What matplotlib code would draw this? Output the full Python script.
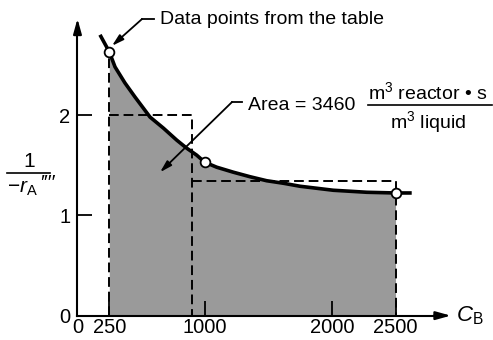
import matplotlib
matplotlib.use('Agg')
import matplotlib.pyplot as plt

plt.rcParams['font.family'] = ['Liberation Sans', 'DejaVu Sans']
plt.rcParams['mathtext.fontset'] = 'custom'
plt.rcParams['mathtext.rm'] = 'Liberation Sans'
plt.rcParams['mathtext.it'] = 'Liberation Sans:italic'
plt.rcParams['mathtext.bf'] = 'Liberation Sans:bold'

# curve (C_B, 1/-rA'''')
curve_x = [177, 250, 295, 373, 452, 517, 570, 675, 780, 858, 937, 1000,
           1094, 1225, 1356, 1487, 1618, 1749, 2011, 2274, 2500, 2627]
curve_y = [2.80, 2.63, 2.48, 2.32, 2.18, 2.07, 1.98, 1.87, 1.75, 1.67, 1.60, 1.53,
           1.48, 1.43, 1.385, 1.345, 1.32, 1.29, 1.25, 1.23, 1.223, 1.223]

# data points from the table
pts_x = [250, 1000, 2500]
pts_y = [2.63, 1.53, 1.223]

# rectangle approximation of the area
step_x = [250, 900, 2500]
step_y = [2.0, 1.34]

xticks = [0, 250, 1000, 2000, 2500]
yticks = [0, 1, 2]

fig = plt.figure(figsize=(4.93, 3.40), dpi=100)
ax = fig.add_axes([0, 0, 1, 1])
ax.set_xlim(-609, 3266)
ax.set_ylim(-0.243, 3.147)
ax.patch.set_visible(False)

# shaded area under the curve between 250 and 2500
i0 = curve_x.index(pts_x[0])
i1 = curve_x.index(pts_x[-1])
ax.fill_between(curve_x[i0:i1 + 1], 0, curve_y[i0:i1 + 1], color='#9a9a9a', lw=0, zorder=1)

# dashed rectangles
dash = dict(color='k', lw=1.4, ls=(0, (5, 2.5)), zorder=2)
ax.plot([step_x[0], step_x[0]], [0, pts_y[0]], **dash)
ax.plot([step_x[0], step_x[1], step_x[1]], [step_y[0], step_y[0], 0], **dash)
ax.plot([step_x[1], step_x[2], step_x[2]], [step_y[1], step_y[1], 0], **dash)

ax.plot(curve_x, curve_y, color='k', lw=2.6, zorder=3, solid_capstyle='butt', solid_joinstyle='round')
ax.plot(pts_x, pts_y, 'o', ms=7, mfc='white', mec='k', mew=1.3, zorder=4)

# axes with arrows
for s in ['top', 'right']:
    ax.spines[s].set_visible(False)
ax.spines['left'].set_position(('data', 0))
ax.spines['bottom'].set_position(('data', 0))
ax.spines['left'].set_bounds(0, 2.85)
ax.spines['bottom'].set_bounds(0, 2850)
for s in ['left', 'bottom']:
    ax.spines[s].set_linewidth(1.5)
arrow = dict(arrowstyle='-|>,head_length=0.9,head_width=0.25', color='k', lw=1.5, shrinkA=0, shrinkB=0)
ax.annotate('', xy=(0, 2.96), xytext=(0, 2.8), arrowprops=arrow)
ax.annotate('', xy=(2934, 0), xytext=(2800, 0), arrowprops=arrow)

ax.set_xticks(xticks)
ax.set_yticks(yticks)
ax.tick_params(direction='in', length=10.5, width=1.3, labelsize=14.5)
ax.tick_params(axis='x', pad=2)
ax.tick_params(axis='y', pad=5)

ax.text(2976, 0, r'$C_{\mathrm{B}}$', fontsize=16, va='center', ha='left')

# y label as a stacked fraction
ax.text(-381, 1.48, '1', fontsize=15, ha='center', va='baseline')
ax.plot([-554, -216], [1.42, 1.42], color='k', lw=1.2)
ax.text(-552, 1.23, r'$-r_{\mathrm{A}}$', fontsize=15, ha='left', va='baseline')
ax.text(-292, 1.262, '\u2032\u2032\u2032\u2032', fontsize=15, ha='left', va='baseline')

# annotations
ax.text(649, 2.957, 'Data points from the table', fontsize=14, va='center', ha='left')
ax.plot([507, 600], [2.957, 2.957], color='k', lw=1.3)
ax.annotate('', xy=(271, 2.69), xytext=(507, 2.957),
            arrowprops=dict(arrowstyle='-|>,head_length=0.7,head_width=0.2', color='k', lw=1.3,
                            shrinkA=0, shrinkB=0))

ax.text(1342, 2.10, 'Area = 3460', fontsize=14, va='center', ha='left')
ax.plot([1215, 1294], [2.13, 2.13], color='k', lw=1.3)
ax.annotate('', xy=(649, 1.43), xytext=(1215, 2.13),
            arrowprops=dict(arrowstyle='-|>,head_length=0.7,head_width=0.2', color='k', lw=1.3,
                            shrinkA=0, shrinkB=0))
ax.text(2755, 2.16, r'm$^3$ reactor • s', fontsize=14, ha='center', va='baseline')
ax.text(2755, 1.87, r'm$^3$ liquid', fontsize=14, ha='center', va='baseline')
ax.plot([2283, 3259], [2.10, 2.10], color='k', lw=1.2)

fig.savefig('out.png', dpi=100)
